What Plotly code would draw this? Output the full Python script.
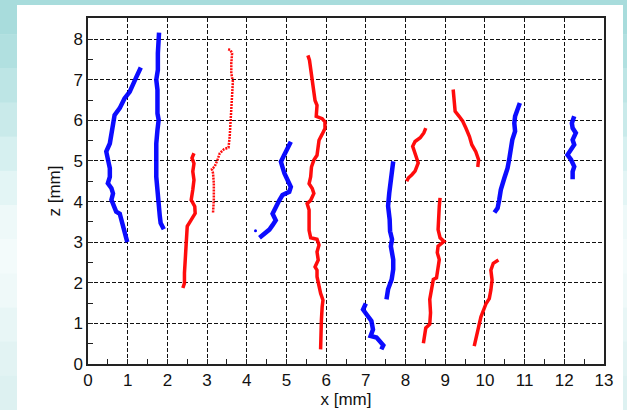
import plotly.graph_objects as go

# ---- trajectory data (x [mm], z [mm]) ----
blue1_x = [0.99, 0.94, 0.88, 0.82, 0.80, 0.71, 0.65, 0.59, 0.63, 0.59, 0.50, 0.55, 0.55, 0.50, 0.46, 0.55, 0.60, 0.65, 0.67, 0.80, 0.92, 1.05, 1.13, 1.22, 1.33]
blue1_z = [3.00, 3.18, 3.39, 3.56, 3.70, 3.75, 3.88, 4.04, 4.20, 4.33, 4.45, 4.61, 4.82, 5.07, 5.23, 5.43, 5.68, 5.93, 6.13, 6.30, 6.54, 6.70, 6.91, 7.07, 7.30]

blue2_x = [1.91, 1.83, 1.81, 1.78, 1.75, 1.72, 1.72, 1.72, 1.75, 1.78, 1.75, 1.76, 1.75, 1.72, 1.76, 1.76, 1.78, 1.79]
blue2_z = [3.32, 3.47, 3.63, 3.88, 4.20, 4.61, 5.02, 5.43, 5.76, 6.01, 6.17, 6.50, 6.75, 7.00, 7.24, 7.65, 7.98, 8.16]

red1_x = [2.39, 2.43, 2.43, 2.45, 2.48, 2.48, 2.50, 2.60, 2.70, 2.69, 2.60, 2.64, 2.67, 2.64, 2.67, 2.62, 2.67]
red1_z = [1.87, 1.99, 2.24, 2.57, 2.89, 3.14, 3.39, 3.55, 3.71, 3.88, 4.04, 4.29, 4.53, 4.74, 4.94, 5.07, 5.19]

red2_x = [3.15, 3.17, 3.17, 3.15, 3.12, 3.19, 3.26, 3.32, 3.43, 3.54, 3.57, 3.59, 3.61, 3.63, 3.65, 3.61, 3.61, 3.63, 3.59, 3.53]
red2_z = [3.73, 4.04, 4.45, 4.70, 4.80, 4.86, 5.02, 5.19, 5.29, 5.33, 5.60, 6.01, 6.42, 6.83, 6.95, 7.16, 7.40, 7.65, 7.73, 7.75]

blue3_x = [4.32, 4.44, 4.57, 4.65, 4.73, 4.65, 4.73, 4.82, 4.90, 5.07, 5.11, 5.02, 4.95, 4.90, 4.86, 4.94, 5.02, 5.11]
blue3_z = [3.11, 3.21, 3.31, 3.42, 3.54, 3.70, 3.87, 4.03, 4.16, 4.24, 4.36, 4.52, 4.69, 4.85, 4.98, 5.14, 5.30, 5.47]
blue3_dot_x = [4.22]
blue3_dot_z = [3.28]

red3_x = [5.86, 5.86, 5.88, 5.90, 5.92, 5.86, 5.82, 5.77, 5.77, 5.72, 5.80, 5.77, 5.82, 5.77, 5.61, 5.57, 5.57, 5.57, 5.52, 5.61, 5.69, 5.65, 5.57, 5.61, 5.63, 5.69, 5.77, 5.80, 5.82, 5.90, 5.97, 5.97, 5.90, 5.75, 5.75, 5.77, 5.72, 5.69, 5.65, 5.63, 5.61, 5.58, 5.54]
red3_z = [0.36, 0.75, 1.08, 1.41, 1.57, 1.74, 1.90, 2.15, 2.31, 2.39, 2.56, 2.76, 2.93, 3.07, 3.11, 3.29, 3.54, 3.79, 3.95, 4.03, 4.20, 4.32, 4.44, 4.61, 4.85, 5.02, 5.14, 5.34, 5.51, 5.66, 5.80, 5.96, 6.04, 6.10, 6.33, 6.37, 6.49, 6.70, 6.90, 7.07, 7.31, 7.48, 7.60]

blue4_x = [7.00, 6.93, 7.02, 7.14, 7.18, 7.12, 7.27, 7.44, 7.39]
blue4_z = [1.49, 1.34, 1.22, 1.06, 0.85, 0.69, 0.65, 0.46, 0.36]

blue5_x = [7.52, 7.56, 7.65, 7.69, 7.69, 7.63, 7.66, 7.61, 7.60, 7.56, 7.59, 7.62, 7.65, 7.69]
blue5_z = [1.59, 1.84, 2.08, 2.33, 2.57, 2.90, 3.07, 3.27, 3.56, 3.89, 4.21, 4.46, 4.70, 4.99]

red4_x = [8.45, 8.49, 8.51, 8.61, 8.63, 8.61, 8.66, 8.70, 8.78, 8.82, 8.85, 8.80, 8.82, 8.97, 8.87, 8.82, 8.83, 8.85, 8.87]
red4_z = [0.51, 0.73, 0.89, 0.98, 1.26, 1.59, 1.88, 2.08, 2.12, 2.33, 2.57, 2.74, 2.90, 3.02, 3.11, 3.31, 3.64, 3.89, 4.09]

red5_x = [8.03, 8.07, 8.16, 8.24, 8.32, 8.28, 8.20, 8.18, 8.24, 8.37, 8.46, 8.51]
red5_z = [4.50, 4.58, 4.66, 4.75, 4.95, 5.07, 5.24, 5.36, 5.48, 5.57, 5.69, 5.81]

red6_x = [9.20, 9.23, 9.25, 9.35, 9.44, 9.52, 9.61, 9.67, 9.77, 9.84, 9.82]
red6_z = [6.76, 6.51, 6.22, 6.10, 5.98, 5.81, 5.60, 5.40, 5.23, 5.03, 4.85]

red7_x = [10.34, 10.21, 10.15, 10.18, 10.15, 10.11, 10.03, 9.96, 9.90, 9.84, 9.79, 9.73]
red7_z = [2.56, 2.48, 2.31, 2.07, 1.82, 1.61, 1.49, 1.33, 1.16, 0.91, 0.67, 0.44]

blue6_x = [10.24, 10.32, 10.36, 10.40, 10.49, 10.57, 10.61, 10.65, 10.69, 10.76, 10.74, 10.76, 10.82, 10.88]
blue6_z = [3.73, 3.84, 4.04, 4.29, 4.58, 4.82, 5.03, 5.28, 5.52, 5.73, 5.93, 6.10, 6.26, 6.43]

blue7_x = [12.21, 12.21, 12.25, 12.17, 12.08, 12.17, 12.25, 12.21, 12.29, 12.21, 12.19, 12.25]
blue7_z = [4.55, 4.74, 4.86, 5.03, 5.15, 5.28, 5.40, 5.52, 5.69, 5.81, 5.93, 6.10]

x_ticks = list(range(0, 14))
z_ticks = list(range(0, 9))

BLUE = "#0000ff"
RED = "#ff0000"

fig = go.Figure()

def add_line(xs, zs, color, width, dash="solid"):
    fig.add_trace(go.Scatter(x=xs, y=zs, mode="lines",
                             line=dict(color=color, width=width, dash=dash, shape="linear"),
                             opacity=0.95, hoverinfo="skip", showlegend=False))

for xs, zs in [(blue1_x, blue1_z), (blue2_x, blue2_z), (blue3_x, blue3_z),
               (blue4_x, blue4_z), (blue5_x, blue5_z), (blue6_x, blue6_z), (blue7_x, blue7_z)]:
    add_line(xs, zs, BLUE, 4.5)

for xs, zs in [(red1_x, red1_z), (red3_x, red3_z), (red4_x, red4_z),
               (red5_x, red5_z), (red6_x, red6_z), (red7_x, red7_z)]:
    add_line(xs, zs, RED, 3.5)

add_line(red2_x, red2_z, RED, 2.5, dash="2px,1px")

fig.add_trace(go.Scatter(x=blue3_dot_x, y=blue3_dot_z, mode="markers",
                         marker=dict(color=BLUE, size=3), hoverinfo="skip", showlegend=False))

# decorative background: teal gradient strips around a white panel
PW, PH, L, T = 516.0, 346.0, 88.0, 18.0
def px_x(p):
    return (p - L) / PW
def px_y(p):
    return (T + PH - p) / PH

shapes = []
grad_cols = ["#a8dcdc", "#b1e0e0", "#bde5e5", "#c9eaea", "#d6f0f0", "#e3f5f5",
             "#eef9f9", "#f3fbfb", "#eff9f9", "#e8f6f6", "#e2f3f3", "#ddf1f1"]
n = len(grad_cols)
for i, c in enumerate(grad_cols):
    py0 = 410.0 * i / n
    py1 = 410.0 * (i + 1) / n + 0.5
    shapes.append(dict(type="rect", xref="paper", yref="paper", layer="below",
                       x0=px_x(-2), x1=px_x(17), y0=px_y(py1), y1=px_y(py0),
                       fillcolor=c, line=dict(width=0)))
    shapes.append(dict(type="rect", xref="paper", yref="paper", layer="below",
                       x0=px_x(623), x1=px_x(630), y0=px_y(py1), y1=px_y(py0),
                       fillcolor=c, line=dict(width=0)))
shapes.append(dict(type="rect", xref="paper", yref="paper", layer="below",
                   x0=px_x(-2), x1=px_x(630), y0=px_y(5), y1=px_y(-2),
                   fillcolor="#a8dcdc", line=dict(width=0)))

fig.update_layout(
    width=627, height=410,
    margin=dict(l=88, r=23, t=18, b=46),
    paper_bgcolor="white",
    plot_bgcolor="white",
    shapes=shapes,
    font=dict(family="Arial, Liberation Sans, sans-serif", size=17, color="#111111"),
    xaxis=dict(
        range=[0, 13], tickvals=x_ticks, ticktext=[str(v) for v in x_ticks],
        showgrid=True, gridcolor="#111111", gridwidth=1, griddash="4px,2px",
        ticks="inside", ticklen=5, tickcolor="#222", tickwidth=1,
        minor=dict(dtick=0.5, tick0=0, ticks="inside", ticklen=5, tickcolor="#222", showgrid=False),
        showline=True, linecolor="#222", linewidth=1.5, mirror=True,
        zeroline=False, automargin=False,
        title=dict(text="x [mm]", font=dict(size=17), standoff=3),
        tickfont=dict(size=17),
    ),
    yaxis=dict(
        range=[0, 8.52], tickvals=z_ticks, ticktext=[str(v) for v in z_ticks],
        showgrid=True, gridcolor="#111111", gridwidth=1, griddash="4px,2px",
        ticks="inside", ticklen=5, tickcolor="#222", tickwidth=1,
        minor=dict(dtick=0.5, tick0=0, ticks="inside", ticklen=5, tickcolor="#222", showgrid=False),
        showline=True, linecolor="#222", linewidth=1.5, mirror=True,
        zeroline=False, automargin=False,
        title=dict(text="z [mm]", font=dict(size=17), standoff=8),
        tickfont=dict(size=17),
    ),
)

fig.write_html("out.html", config={"displayModeBar": False},
               post_script="document.body.style.margin='0';document.body.style.overflow='hidden';")
